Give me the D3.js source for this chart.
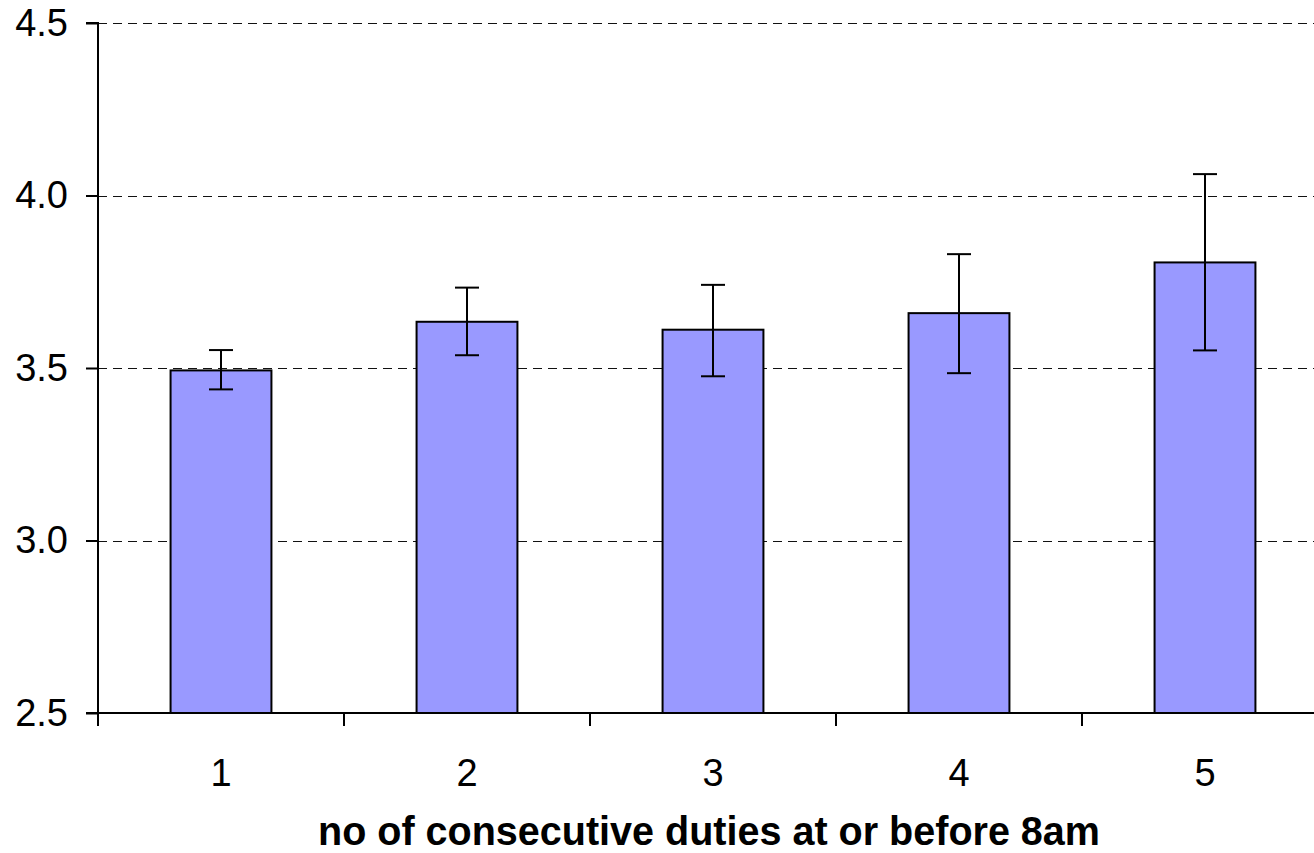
<!DOCTYPE html>
<html><head><meta charset="utf-8">
<script src="https://cdn.jsdelivr.net/npm/d3@7"></script>
<style>html,body{margin:0;padding:0;background:#fff;overflow:hidden}</style>
</head><body>
<svg id="c" width="1314" height="853"></svg>
<script>
const categories = ["1","2","3","4","5"];
const means = [3.493, 3.634, 3.611, 3.659, 3.806];
const upper = [3.552, 3.733, 3.741, 3.830, 4.062];
const lower = [3.438, 3.537, 3.476, 3.485, 3.551];
const yTicks = [2.5, 3.0, 3.5, 4.0, 4.5];
const xTitle = "no of consecutive duties at or before 8am";

(function(){
const svg = d3.select("#c");
const pLeft = 98, pTop = 23, pBottom = 713, step = 246;
const x = d3.scaleBand().domain(categories).range([pLeft, pLeft + step*categories.length]).padding(0);
const y = d3.scaleLinear().domain([2.5, 4.5]).range([pBottom, pTop]);
const font = "'Liberation Sans', Arial, sans-serif";

// gridlines
svg.append("g").attr("shape-rendering", "crispEdges").selectAll("line").data(yTicks.filter(d => d > 2.5)).join("line")
  .attr("x1", pLeft).attr("x2", 1314)
  .attr("y1", d => Math.round(y(d)) + 0.5).attr("y2", d => Math.round(y(d)) + 0.5)
  .attr("stroke", "#111").attr("stroke-width", 1).attr("stroke-dasharray", "9,6");

// bars
const bw = x.bandwidth()*0.41;
svg.append("g").selectAll("rect").data(categories).join("rect")
  .attr("x", d => x(d) + x.bandwidth()/2 - bw/2)
  .attr("width", bw)
  .attr("y", (d,i) => y(means[i]))
  .attr("height", (d,i) => pBottom - y(means[i]))
  .attr("fill", "#9999ff").attr("stroke", "#000").attr("stroke-width", 2);

// error bars
const eg = svg.append("g").attr("stroke", "#000").attr("stroke-width", 2);
categories.forEach((c,i) => {
  const cx = x(c) + x.bandwidth()/2;
  eg.append("line").attr("x1", cx).attr("x2", cx).attr("y1", y(upper[i])).attr("y2", y(lower[i]));
  eg.append("line").attr("x1", cx-12).attr("x2", cx+12).attr("y1", y(upper[i])).attr("y2", y(upper[i]));
  eg.append("line").attr("x1", cx-12).attr("x2", cx+12).attr("y1", y(lower[i])).attr("y2", y(lower[i]));
});

// y axis
const ya = d3.axisLeft(y).tickValues(yTicks).tickFormat(d3.format(".1f")).tickSize(12).tickPadding(18);
const yg = svg.append("g").attr("transform", `translate(${pLeft},0)`).call(ya);
yg.attr("font-size", null).attr("font-family", null);
yg.select(".domain").attr("stroke", "#000").attr("stroke-width", 2).attr("d", `M-12,${pTop}H0V${pBottom}H-12`);
yg.selectAll(".tick line").attr("stroke", "#000").attr("stroke-width", 2);
yg.selectAll(".tick text").style("font-family", font).style("font-size", "38px").attr("fill", "#000");

// x axis
const xa = d3.axisBottom(x).tickSize(0).tickPadding(46);
const xg = svg.append("g").attr("transform", `translate(0,${pBottom})`).call(xa);
xg.attr("font-size", null).attr("font-family", null);
xg.select(".domain").attr("stroke", "#000").attr("stroke-width", 2).attr("d", `M${pLeft},0H1314`);
xg.selectAll(".tick text").style("font-family", font).style("font-size", "38px").attr("fill", "#000");
const bounds = categories.map(c => x(c)).concat([x(categories[categories.length-1]) + x.bandwidth()]);
xg.append("g").selectAll("line").data(bounds).join("line")
  .attr("x1", d => d).attr("x2", d => d).attr("y1", 0).attr("y2", 13)
  .attr("stroke", "#000").attr("stroke-width", 2);

// title
svg.append("text").attr("x", 709).attr("y", 845).attr("text-anchor", "middle")
  .style("font-family", font).style("font-weight", "bold").style("font-size", "40px")
  .attr("textLength", 782).attr("lengthAdjust", "spacingAndGlyphs")
  .text(xTitle);
})();
</script>
</body></html>
